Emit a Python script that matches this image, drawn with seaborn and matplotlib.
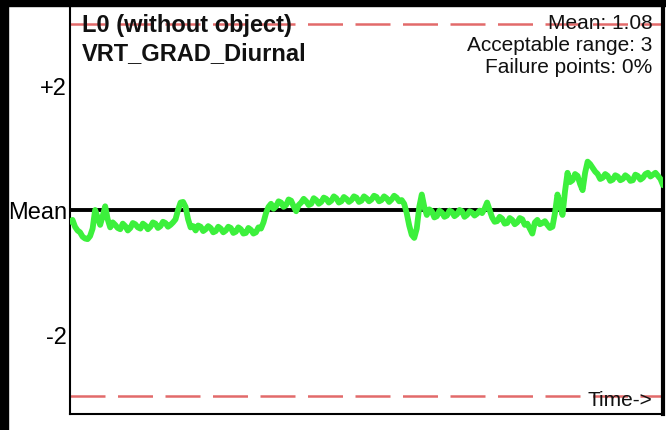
import numpy as np
import pandas as pd
import seaborn as sns
import matplotlib.pyplot as plt
from matplotlib.patches import Rectangle

# Signal (deviation from the mean, in units)
signal = [
    -0.19, -0.16, -0.27, -0.33, -0.36, -0.43, -0.46, -0.47, -0.42, -0.30,
    0.00, -0.12, -0.24, -0.10, 0.06, -0.15, -0.28,
    -0.20, -0.24, -0.29, -0.31, -0.22, -0.26, -0.33, -0.29, -0.21,
    -0.23, -0.28, -0.30, -0.22, -0.25, -0.31, -0.27, -0.20, -0.22, -0.29,
    -0.26, -0.19, -0.21, -0.27, -0.24, -0.20, -0.15, 0.00, 0.12, 0.13,
    0.05, -0.15, -0.28, -0.26, -0.33, -0.25, -0.27, -0.34, -0.31, -0.26,
    -0.29, -0.36, -0.34, -0.27, -0.30, -0.36, -0.33, -0.27, -0.29, -0.37,
    -0.35, -0.28, -0.31, -0.38, -0.37, -0.29, -0.32, -0.38, -0.36, -0.28,
    -0.30, -0.20, -0.05, 0.05, 0.10, 0.02, 0.06, 0.14, 0.12, 0.05,
    0.08, 0.17, 0.15, 0.06, -0.02, 0.08, 0.12, 0.18, 0.14, 0.08,
    0.10, 0.19, 0.16, 0.10, 0.13, 0.20, 0.18, 0.12, 0.15, 0.22,
    0.19, 0.12, 0.14, 0.21, 0.18, 0.13, 0.16, 0.22, 0.20, 0.13,
    0.15, 0.22, 0.19, 0.14, 0.17, 0.23, 0.21, 0.14, 0.16, 0.22,
    0.19, 0.13, 0.17, 0.23, 0.20, 0.14, 0.16, 0.10, -0.05, -0.25,
    -0.40, -0.45, -0.30, 0.05, 0.25, 0.05, -0.08, 0.01, -0.02, -0.12,
    -0.10, -0.01, -0.04, -0.11, -0.09, -0.01, -0.03, -0.10, -0.07, 0.00,
    -0.02, -0.11, -0.08, -0.02, -0.04, -0.09, -0.06, -0.01, -0.05, 0.02,
    0.12, 0.00, -0.12, -0.19, -0.18, -0.11, -0.14, -0.22, -0.21, -0.13,
    -0.16, -0.23, -0.20, -0.13, -0.15, -0.24, -0.22, -0.30, -0.38, -0.20,
    -0.16, -0.23, -0.21, -0.18, -0.24, -0.29, -0.27, -0.05, 0.25, 0.10,
    -0.08, 0.30, 0.60, 0.45, 0.48, 0.58, 0.55, 0.42, 0.32, 0.60,
    0.78, 0.74, 0.68, 0.62, 0.58, 0.50, 0.52, 0.58, 0.55, 0.47,
    0.49, 0.56, 0.54, 0.48, 0.50, 0.56, 0.53, 0.47, 0.48, 0.57,
    0.55, 0.49, 0.52, 0.58, 0.60, 0.54, 0.57, 0.60, 0.55, 0.50,
    0.40,
]
x_ticks = [0, 1, 2, 3]
y_ticks = [-2, 0, 2]
y_labels = ['-2', 'Mean', '+2']
limit = 3
title_lines = ['L0 (without object)', 'VRT_GRAD_Diurnal']
stats_lines = ['Mean: 1.08', 'Acceptable range: 3', 'Failure points: 0%']

df = pd.DataFrame({'time': np.linspace(0, 4, len(signal)), 'value': signal})

sns.set_theme(style='white')
plt.rcParams['font.family'] = ['Liberation Sans', 'DejaVu Sans']

W, H = 666, 431
fig = plt.figure(figsize=(W / 100, H / 100), dpi=100)
fig.patch.set_facecolor('white')
ax = fig.add_axes([70 / W, 16 / H, (663 - 70) / W, (424 - 16) / H])

# black frame bands of the screenshot
fig.patches.append(Rectangle((0, 0), 8 / W, 1, transform=fig.transFigure,
                             color='black', zorder=10))
fig.patches.append(Rectangle((0, 1 - 7 / H), 1, 7 / H, transform=fig.transFigure,
                             color='black', zorder=10))

ax.axhline(0, color='black', lw=2.8, zorder=2)
for lv in (limit, -limit):
    ax.axhline(lv, color='#e26a6a', lw=1.8, dashes=(14, 5), zorder=2)

sns.lineplot(data=df, x='time', y='value', ax=ax, color='#3cf03c', lw=4.2,
             zorder=3)

ax.set_xlim(0, 4)
ax.set_ylim(-3.29, 3.29)
ax.set_xticks(x_ticks)
ax.set_xticklabels([])
ax.set_yticks(y_ticks)
ax.set_yticklabels(y_labels, fontsize=17)
ax.tick_params(axis='x', direction='in', length=7, width=2, colors='black')
ax.tick_params(axis='y', direction='in', length=6, width=1.5, colors='black',
               pad=2)
ax.set_xlabel('')
ax.set_ylabel('')

for side in ['left', 'bottom']:
    ax.spines[side].set_color('black')
    ax.spines[side].set_linewidth(1.5)
ax.spines['right'].set_color('black')
ax.spines['right'].set_linewidth(3)
ax.spines['top'].set_visible(False)

ax.text(0.02, 0.982, title_lines[0], transform=ax.transAxes, fontsize=17,
        fontweight='bold', va='top', ha='left', color='#111111')
ax.text(0.02, 0.913, title_lines[1], transform=ax.transAxes, fontsize=17,
        fontweight='bold', va='top', ha='left', color='#111111')
for i, line in enumerate(stats_lines):
    ax.text(0.982, 0.982 - i * 0.053, line, transform=ax.transAxes,
            fontsize=15, va='top', ha='right', color='#111111')
ax.text(0.982, 0.012, 'Time->', transform=ax.transAxes, fontsize=15,
        va='bottom', ha='right', color='#111111')

fig.savefig('out.png', dpi=100)
